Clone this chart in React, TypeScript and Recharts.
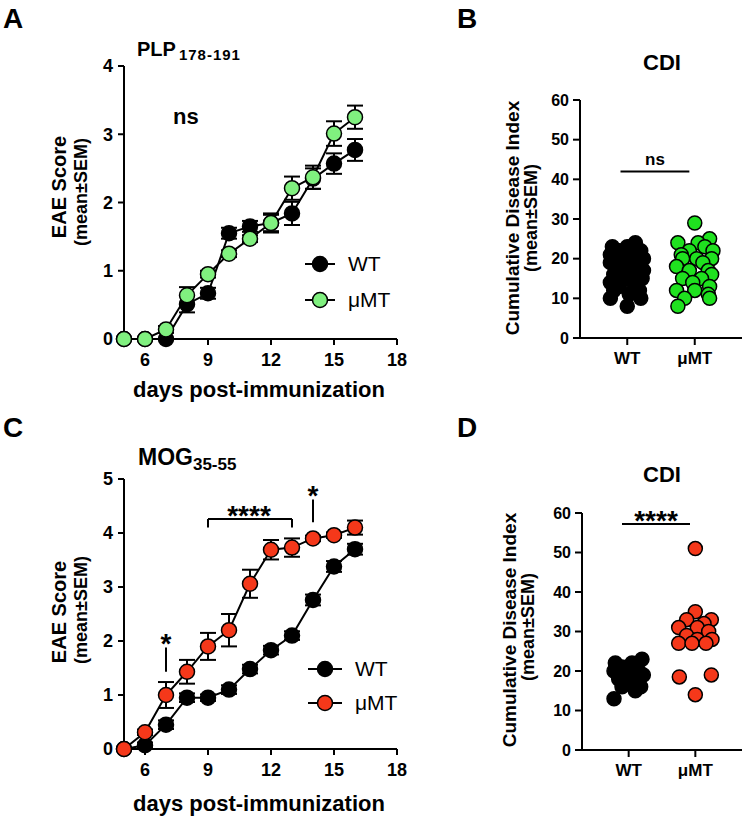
import React from "react";
import {
  ComposedChart,
  Line,
  ErrorBar,
  XAxis,
  YAxis,
  Legend,
  ReferenceLine,
  ScatterChart,
  Scatter,
} from "recharts";

const FONT = '"Liberation Sans", Arial, Helvetica, sans-serif';

// disease course, days post-immunization
const days = [5, 6, 7, 8, 9, 10, 11, 12, 13, 14, 15, 16];
const dayTicks = [6, 9, 12, 15, 18];
const plpTicks = [0, 1, 2, 3, 4];
const mogTicks = [0, 1, 2, 3, 4, 5];
const cdiTicks = [0, 10, 20, 30, 40, 50, 60];
const groups = ["WT", "μMT"];

// A: PLP 178-191
const plpWT = [0, 0, 0, 0.51, 0.67, 1.55, 1.65, 1.7, 1.84, 2.35, 2.57, 2.77];
const plpWTSem = [0, 0, 0, 0.12, 0.08, 0.08, 0.08, 0.12, 0.17, 0.15, 0.15, 0.16];
const plpMT = [0, 0, 0.14, 0.64, 0.95, 1.25, 1.47, 1.7, 2.21, 2.37, 3.01, 3.25];
const plpMTSem = [0, 0, 0.05, 0.12, 0.05, 0.05, 0.05, 0.14, 0.17, 0.17, 0.18, 0.17];

// C: MOG 35-55
const mogWT = [0, 0.07, 0.45, 0.95, 0.95, 1.1, 1.48, 1.83, 2.1, 2.76, 3.38, 3.7];
const mogWTSem = [0, 0.05, 0.08, 0.08, 0.06, 0.08, 0.08, 0.08, 0.08, 0.1, 0.1, 0.1];
const mogMT = [0, 0.31, 1.0, 1.43, 1.9, 2.2, 3.06, 3.69, 3.73, 3.9, 3.96, 4.1];
const mogMTSem = [0, 0.05, 0.24, 0.22, 0.25, 0.3, 0.26, 0.18, 0.17, 0.05, 0.05, 0.13];

// B: CDI, PLP mice (value + horizontal spread inside the group column)
const cdiPlpWT = [24, 23, 23, 22, 22, 22, 21, 21, 20, 20, 20, 19, 19, 18, 18, 17, 17, 16, 16, 15, 15, 14, 14, 13, 12, 12, 11, 10, 10, 8];
const spreadPlpWT = [0.12, -0.22, 0, 0.2, -0.12, 0.06, -0.25, 0.15, -0.05, 0.24, -0.18, 0.08, -0.25, 0.18, -0.1, 0.02, 0.24, -0.2, 0.12, -0.05, 0.22, -0.25, 0.08, -0.12, 0.18, -0.2, 0.03, -0.25, 0.2, 0];
const cdiPlpMT = [29, 25, 24, 24, 23, 22, 22, 21, 20, 20, 20, 19, 18, 17, 17, 16, 15, 15, 14, 13, 12, 12, 11, 10, 10, 8];
const spreadPlpMT = [0, 0.22, -0.25, 0.05, 0.15, -0.08, 0.27, -0.2, -0.18, 0.03, 0.25, 0.12, -0.27, -0.08, 0.2, 0.25, -0.18, 0.1, -0.03, 0.22, -0.27, 0, 0.2, -0.15, 0.22, -0.25];

// D: CDI, MOG mice
const cdiMogWT = [23, 22, 22, 21, 20, 20, 19, 19, 18, 18, 17, 16, 16, 15, 13];
const spreadMogWT = [0.2, -0.2, 0.05, -0.1, 0.15, -0.22, 0, 0.22, -0.15, 0.1, -0.05, 0.18, -0.1, 0.1, -0.22];
const cdiMogMT = [51, 35, 33, 33, 32, 31, 31, 30, 29, 28, 28, 27, 27, 27, 19, 18.5, 14];
const spreadMogMT = [0, 0, -0.13, 0.24, 0.13, -0.25, 0.03, 0.2, -0.13, 0.03, 0.25, -0.25, -0.05, 0.16, 0.24, -0.24, 0];

const course = (wt: number[], wtSem: number[], mt: number[], mtSem: number[]) =>
  days.map((day, i) => ({ day, wt: wt[i], wtSem: wtSem[i], mt: mt[i], mtSem: mtSem[i] }));

const swarm = (vals: number[], spread: number[], group: number) =>
  vals.map((y, i) => ({ x: group + spread[i], y }));

const axisLine = { stroke: "#000", strokeWidth: 2 };
const tickLine = { stroke: "#000", strokeWidth: 2 };
const tickFont = (size: number) => ({ fill: "#000", fontSize: size, fontWeight: 700, fontFamily: FONT });

const GREEN_LIGHT = "#80f07f";
const GREEN = "#1fe11f";
const RED = "#f5381a";

const makeDot = (fill: string) => (props: any) =>
  <circle cx={props.cx} cy={props.cy} r={7} fill={fill} stroke="#000" strokeWidth={1.5} />;

const legendContent = (fills: Record<string, string>, rowH: number, lineW: number) => (props: any) => (
  <div style={{ fontFamily: FONT }}>
    {(props.payload || []).map((e: any) => (
      <div key={e.value} style={{ display: "flex", alignItems: "center", height: rowH }}>
        <svg width={lineW} height={18}>
          <line x1={0} y1={9} x2={lineW} y2={9} stroke="#000" strokeWidth={2} />
          <circle cx={lineW / 2} cy={9} r={7.5} fill={fills[e.dataKey]} stroke="#000" strokeWidth={1.5} />
        </svg>
        <span style={{ marginLeft: 13, fontSize: 21, color: "#000" }}>{e.value}</span>
      </div>
    ))}
  </div>
);

type CourseProps = {
  data: ReturnType<typeof course>;
  yMax: number;
  yTicks: number[];
  mtFill: string;
  height: number;
  margin: { top: number; right: number; left: number; bottom: number };
  legendPos: { left: number; top: number; rowH: number; lineW: number };
  children?: React.ReactNode;
};

function CourseChart({ data, yMax, yTicks, mtFill, height, margin, legendPos, children }: CourseProps) {
  return (
    <ComposedChart width={420} height={height} data={data} margin={margin}>
      <XAxis
        type="number"
        dataKey="day"
        domain={[5, 18]}
        ticks={dayTicks}
        interval={0}
        axisLine={axisLine}
        tickLine={tickLine}
        tickSize={6}
        tickMargin={8}
        height={30}
        tick={tickFont(18)}
      />
      <YAxis
        type="number"
        domain={[0, yMax]}
        ticks={yTicks}
        interval={0}
        width={44}
        axisLine={axisLine}
        tickLine={tickLine}
        tickSize={6}
        tickMargin={5}
        tick={tickFont(18)}
      />
      {children}
      <Line
        type="linear"
        dataKey="wt"
        name="WT"
        stroke="#000"
        strokeWidth={2}
        dot={{ r: 7.5, fill: "#000", stroke: "#000", strokeWidth: 1.5 }}
        activeDot={false}
        isAnimationActive={false}
      >
        <ErrorBar dataKey="wtSem" width={8} stroke="#000" strokeWidth={2} direction="y" />
      </Line>
      <Line
        type="linear"
        dataKey="mt"
        name="μMT"
        stroke="#000"
        strokeWidth={2}
        dot={{ r: 7.5, fill: mtFill, stroke: "#000", strokeWidth: 1.5 }}
        activeDot={false}
        isAnimationActive={false}
      >
        <ErrorBar dataKey="mtSem" width={8} stroke="#000" strokeWidth={2} direction="y" />
      </Line>
      <Legend
        layout="vertical"
        align="center"
        verticalAlign="middle"
        wrapperStyle={{ left: legendPos.left, top: legendPos.top, width: "auto" }}
        content={legendContent({ wt: "#000", mt: mtFill }, legendPos.rowH, legendPos.lineW)}
      />
    </ComposedChart>
  );
}

type CdiProps = {
  wt: { x: number; y: number }[];
  mt: { x: number; y: number }[];
  mtFill: string;
  height: number;
  margin: { top: number; right: number; left: number; bottom: number };
  barY: number;
};

function CdiChart({ wt, mt, mtFill, height, margin, barY }: CdiProps) {
  return (
    <ScatterChart width={363} height={height} margin={margin}>
      <XAxis
        type="number"
        dataKey="x"
        domain={[0.3, 2.7]}
        ticks={[1, 2]}
        interval={0}
        tickFormatter={(v: number) => groups[v - 1]}
        axisLine={axisLine}
        tickLine={tickLine}
        tickSize={7}
        tickMargin={7}
        height={30}
        tick={tickFont(17)}
      />
      <YAxis
        type="number"
        dataKey="y"
        domain={[0, 60]}
        ticks={cdiTicks}
        interval={0}
        width={50}
        axisLine={axisLine}
        tickLine={tickLine}
        tickSize={7}
        tickMargin={4}
        tick={tickFont(16)}
      />
      <ReferenceLine
        segment={[{ x: 0.9, y: barY }, { x: 1.92, y: barY }]}
        stroke="#000"
        strokeWidth={2}
      />
      <Scatter data={wt} shape={makeDot("#000")} isAnimationActive={false} />
      <Scatter data={mt} shape={makeDot(mtFill)} isAnimationActive={false} />
    </ScatterChart>
  );
}

const refStroke = { stroke: "#000", strokeWidth: 2 };

export default function App() {
  const plpData = course(plpWT, plpWTSem, plpMT, plpMTSem);
  const mogData = course(mogWT, mogWTSem, mogMT, mogMTSem);

  return (
    <div
      style={{
        position: "absolute",
        left: 0,
        top: 0,
        width: 743,
        height: 818,
        background: "#fff",
        fontFamily: FONT,
        overflow: "hidden",
      }}
    >
      <div style={{ position: "absolute", left: 0, top: 0 }}>
        <CourseChart
          data={plpData}
          yMax={4}
          yTicks={plpTicks}
          mtFill={GREEN_LIGHT}
          height={400}
          margin={{ top: 66, right: 23, left: 80, bottom: 31 }}
          legendPos={{ left: 305, top: 246, rowH: 36, lineW: 30 }}
        />
      </div>

      <div style={{ position: "absolute", left: 380, top: 0 }}>
        <CdiChart
          wt={swarm(cdiPlpWT, spreadPlpWT, 1)}
          mt={swarm(cdiPlpMT, spreadPlpMT, 2)}
          mtFill={GREEN}
          height={400}
          margin={{ top: 100, right: 1, left: 150, bottom: 32 }}
          barY={42}
        />
      </div>

      <div style={{ position: "absolute", left: 0, top: 400 }}>
        <CourseChart
          data={mogData}
          yMax={5}
          yTicks={mogTicks}
          mtFill={RED}
          height={418}
          margin={{ top: 79, right: 23, left: 80, bottom: 39 }}
          legendPos={{ left: 308, top: 252, rowH: 34, lineW: 34 }}
        >
          <ReferenceLine segment={[{ x: 7, y: 1.43 }, { x: 7, y: 1.88 }]} {...refStroke} />
          <ReferenceLine segment={[{ x: 9, y: 4.26 }, { x: 13, y: 4.26 }]} {...refStroke} />
          <ReferenceLine segment={[{ x: 9, y: 4.1 }, { x: 9, y: 4.26 }]} {...refStroke} />
          <ReferenceLine segment={[{ x: 13, y: 4.1 }, { x: 13, y: 4.26 }]} {...refStroke} />
          <ReferenceLine segment={[{ x: 14, y: 4.2 }, { x: 14, y: 4.62 }]} {...refStroke} />
        </CourseChart>
      </div>

      <div style={{ position: "absolute", left: 380, top: 400 }}>
        <CdiChart
          wt={swarm(cdiMogWT, spreadMogWT, 1)}
          mt={swarm(cdiMogMT, spreadMogMT, 2)}
          mtFill={RED}
          height={418}
          margin={{ top: 113, right: 1, left: 152, bottom: 38 }}
          barY={57.2}
        />
      </div>

      {/* panel letters, titles, axis titles and significance marks */}
      <svg
        width={743}
        height={818}
        style={{ position: "absolute", left: 0, top: 0, pointerEvents: "none" }}
        fontFamily={FONT}
        fontWeight={700}
        fill="#000"
      >
        <text x={3} y={28} fontSize={28}>A</text>
        <text x={457} y={28} fontSize={28}>B</text>
        <text x={3} y={437} fontSize={28}>C</text>
        <text x={457} y={437} fontSize={28}>D</text>

        <text x={137} y={56} fontSize={20}>
          PLP
          <tspan dx={3} dy={4} fontSize={15} letterSpacing={1}>178-191</tspan>
        </text>
        <text x={138} y={465} fontSize={23}>
          MOG
          <tspan dy={5} fontSize={17}>35-55</tspan>
        </text>

        <text x={173} y={124} fontSize={22}>ns</text>
        <text x={662} y={70} fontSize={22} textAnchor="middle">CDI</text>
        <text x={655} y={165} fontSize={17} textAnchor="middle">ns</text>
        <text x={662} y={482} fontSize={22} textAnchor="middle">CDI</text>
        <text x={656} y={530} fontSize={28} textAnchor="middle">****</text>

        <text x={166} y={653} fontSize={28} textAnchor="middle">*</text>
        <text x={249} y={525} fontSize={28} textAnchor="middle">****</text>
        <text x={313} y={505} fontSize={28} textAnchor="middle">*</text>

        <text transform="translate(66,187) rotate(-90)" fontSize={20} textAnchor="middle">EAE Score</text>
        <text transform="translate(87,192) rotate(-90)" fontSize={18} textAnchor="middle">(mean±SEM)</text>
        <text transform="translate(66,612) rotate(-90)" fontSize={20} textAnchor="middle">EAE Score</text>
        <text transform="translate(87,610) rotate(-90)" fontSize={18} textAnchor="middle">(mean±SEM)</text>

        <text transform="translate(519,218) rotate(-90)" fontSize={19} textAnchor="middle">Cumulative Disease Index</text>
        <text transform="translate(537,218) rotate(-90)" fontSize={18} textAnchor="middle">(mean±SEM)</text>
        <text transform="translate(516,630) rotate(-90)" fontSize={19} textAnchor="middle">Cumulative Disease Index</text>
        <text transform="translate(534,627) rotate(-90)" fontSize={18} textAnchor="middle">(mean±SEM)</text>

        <text x={259} y={397} fontSize={22} textAnchor="middle">days post-immunization</text>
        <text x={259} y={811} fontSize={22} textAnchor="middle">days post-immunization</text>
      </svg>
    </div>
  );
}
